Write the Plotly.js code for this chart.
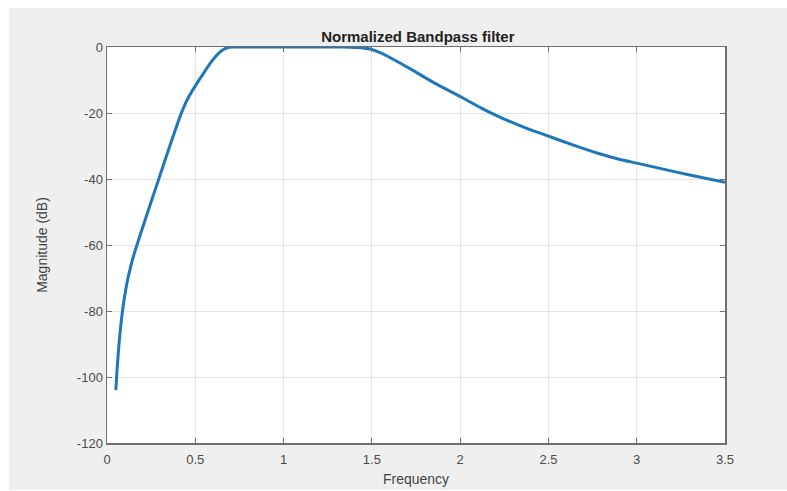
<!DOCTYPE html>
<html>
<head>
<meta charset="utf-8">
<script src="https://cdn.plot.ly/plotly-3.0.1.min.js"></script>
<style>
html,body{margin:0;padding:0;background:#ffffff;}
#chart{position:absolute;left:9px;top:8px;width:778px;height:482px;}
</style>
</head>
<body>
<div id="chart"></div>
<script>
const titleText = "Normalized Bandpass filter";
const xLabel = "Frequency";
const yLabel = "Magnitude (dB)";
const xTicks = [0, 0.5, 1, 1.5, 2, 2.5, 3, 3.5];
const yTicks = [0, -20, -40, -60, -80, -100, -120];

const freq = [0.05, 0.058, 0.068, 0.078, 0.087, 0.1, 0.115, 0.135, 0.153, 0.172, 0.2, 0.229, 0.26, 0.29, 0.315, 0.343, 0.38, 0.42, 0.455, 0.494, 0.551, 0.598, 0.63, 0.655, 0.68, 0.71, 0.8, 0.9, 1.0, 1.1, 1.2, 1.3, 1.38, 1.42, 1.46, 1.49, 1.55, 1.62, 1.73, 1.85, 2.0, 2.12, 2.24, 2.37, 2.51, 2.65, 2.78, 2.9, 3.0, 3.15, 3.3, 3.5];
const magDb = [-104, -97, -90, -84.5, -80.3, -75.5, -71, -66.3, -62.8, -59.6, -55, -50.3, -45.3, -40.5, -36.5, -32, -26.2, -20.2, -15.9, -12.3, -7.6, -4, -2, -0.9, -0.25, 0, 0, 0, 0, 0, 0, 0, -0.05, -0.15, -0.35, -0.6, -1.8, -3.7, -7, -10.8, -15, -18.5, -21.6, -24.5, -27.2, -29.9, -32.2, -34, -35.2, -37, -38.8, -41];

const fontFam = 'Liberation Sans, Arial, sans-serif';
const axisCommon = {
  showline: true, linecolor: '#6e6e6e', linewidth: 1.5, mirror: 'allticks',
  ticks: 'inside', ticklen: 5, tickcolor: '#6e6e6e', tickwidth: 1,
  showgrid: true, gridcolor: '#e4e4e4', gridwidth: 1, zeroline: false,
  tickfont: {family: fontFam, size: 13, color: '#4a4a4a'}
};

const layout = {
  width: 778, height: 482,
  paper_bgcolor: '#f0eff0', plot_bgcolor: '#ffffff',
  margin: {l: 98, r: 62, t: 39, b: 47},
  showlegend: false,
  title: {text: '<b>' + titleText + '</b>', x: 0.503, xref: 'paper', xanchor: 'center',
          y: 1, yref: 'paper', yanchor: 'bottom', pad: {b: 5},
          font: {family: fontFam, size: 15, color: '#222222'}},
  xaxis: Object.assign({}, axisCommon, {
    range: [0, 3.5], tickvals: xTicks, ticktext: xTicks.map(String),
    ticklabelstandoff: 4,
    title: {text: xLabel, standoff: 8, font: {family: fontFam, size: 14, color: '#444444'}}
  }),
  yaxis: Object.assign({}, axisCommon, {
    range: [-120, 0], tickvals: yTicks, ticktext: yTicks.map(String),
    title: {text: yLabel, standoff: 26, font: {family: fontFam, size: 14, color: '#444444'}}
  })
};

const trace = {
  x: freq, y: magDb, type: 'scatter', mode: 'lines',
  line: {color: '#1f77b9', width: 3, shape: 'spline', smoothing: 0.5},
  hoverinfo: 'none'
};

Plotly.newPlot('chart', [trace], layout, {staticPlot: true, displayModeBar: false});
</script>
</body>
</html>
